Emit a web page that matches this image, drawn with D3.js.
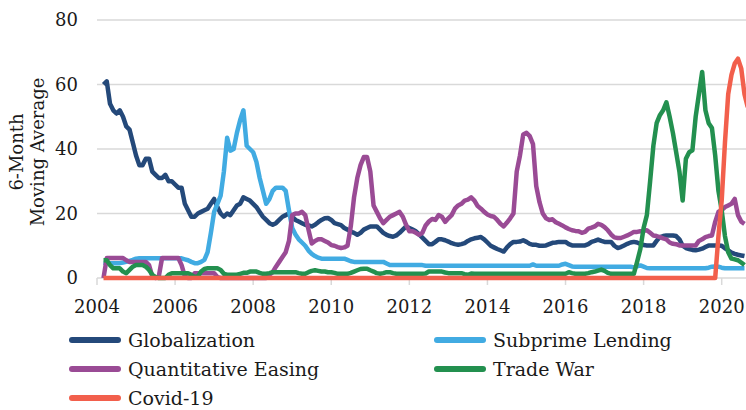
<!DOCTYPE html>
<html>
<head>
<meta charset="utf-8">
<script src="https://cdn.jsdelivr.net/npm/d3@7"></script>
<style>
	body { margin: 0; background: #fff; }
	text { font-family: "DejaVu Serif", serif; fill: #1a1a1a; }
</style>
</head>
<body>
<svg id="chart" width="746" height="410"></svg>
<script>
// monthly series, month 0 = Jan 2004, values start at March 2004
var firstMonth = 2;

var globalization = [
	60, 61, 54, 52, 51, 52, 50, 47, 46, 42,
	38, 35, 35, 37, 37, 33, 32, 31, 31, 32,
	30, 30, 29, 28, 28, 23, 21, 19, 19, 20,
	20.5, 21, 21.5, 23, 24.5, 22, 20, 19, 20, 19.5,
	21, 22.5, 23, 25, 24.5, 24, 23, 22, 20.5, 19,
	18, 17, 16.5, 17, 18, 19, 19.5, 20, 19, 18,
	17.5, 17, 16.5, 16.3, 16, 16.5, 17.3, 18, 18.5, 18.6,
	18, 17, 16.7, 16.4, 15.5, 15, 14.4, 14, 13.4, 14,
	15, 15.5, 16, 16, 16, 15, 14, 13.4, 13, 12.8,
	13.2, 14, 15, 16, 15.5, 15, 14.5, 13.5, 12.5, 11.5,
	10.5, 10.5, 11.2, 12, 12, 11.7, 11.3, 10.8, 10.5, 10.3,
	10.5, 10.8, 11.5, 12, 12.3, 12.5, 12.7, 12, 11, 10,
	9.5, 9, 8.6, 8.2, 9.5, 10.5, 11.2, 11.2, 11.3, 11.7,
	11.2, 10.6, 10.3, 10.3, 10, 10, 10.1, 10.5, 10.9, 11,
	11.2, 11.2, 11.2, 10.5, 10.1, 10.1, 10.1, 10.1, 10.1, 10.5,
	11.2, 11.5, 11.9, 11.5, 11.2, 11.2, 11.2, 10, 9.3, 9.6,
	10.1, 10.6, 11, 11.2, 11, 10.6, 10.2, 10.1, 10.1, 10.1,
	11.5, 12.7, 13, 13.2, 13.2, 13.2, 13, 12, 10, 9.3,
	9, 8.7, 8.6, 8.8, 9.1, 9.6, 10.1, 10.1, 10.1, 10.1,
	10, 9.2, 8.6, 7.9, 7.5, 7.2, 7, 6.8
];

var subprime = [
	4.8, 4.6, 4.6, 4.6, 4.6, 4.6, 4.8, 5, 5.3, 5.6,
	6, 6.1, 6.1, 6.1, 6.1, 6.1, 6.1, 6.1, 6.1, 6.1,
	6.1, 6.1, 6.1, 6.1, 6.1, 5.8, 5.5, 5, 4.6, 4.6,
	5, 5.6, 8, 14, 20.5, 23, 25.5, 33, 43.5, 39.5,
	40, 45, 49, 52, 41, 40, 39, 36, 31, 27,
	23, 24.5, 27, 28, 28, 28, 27, 21, 15.5, 13.5,
	12, 11, 10, 8.5, 7.5, 6.8, 6.3, 6, 6, 6,
	6, 6, 6, 6, 6, 5.6, 5.2, 5, 5, 5,
	5, 5, 5, 5, 5, 5, 5, 4.5, 4, 4,
	4, 4, 4, 4, 4, 4, 4, 4, 4, 3.8,
	3.8, 3.8, 3.8, 3.8, 3.8, 3.8, 3.8, 3.8, 3.8, 3.8,
	3.8, 3.8, 3.8, 3.8, 3.8, 3.8, 3.8, 3.8, 3.8, 3.8,
	3.8, 3.8, 3.8, 3.8, 3.8, 3.8, 3.8, 3.8, 3.8, 3.8,
	3.8, 3.8, 4.2, 3.8, 3.8, 3.8, 3.8, 3.8, 3.8, 3.8,
	3.8, 4.2, 4.4, 4, 3.6, 3.5, 3.5, 3.5, 3.5, 3.5,
	3.5, 3.5, 3.5, 3.5, 3.5, 3.5, 3.5, 3.5, 3.5, 3.5,
	3.5, 3.5, 3.5, 3.3, 3.6, 3.9, 3.5, 3.1, 3, 3,
	3, 3, 3, 3, 3, 3, 3, 3, 3, 3,
	3, 3, 3, 3, 3, 3, 3.2, 3.5, 3.6, 3.5,
	3.2, 3, 3, 3, 3, 3, 3, 3
];

var quantEasing = [
	0, 6.2, 6.2, 6.2, 6.2, 6.2, 6.2, 5.5, 5, 5,
	5, 5, 5, 5, 4, 0.5, 0, 0.5, 6.2, 6.2,
	6.2, 6.2, 6.2, 6.2, 4, 0.5, 0, 0, 1.5, 1.5,
	1.5, 1.5, 1.5, 1.5, 1.5, 0.3, 0, 0, 0, 0,
	0, 0, 0, 0, 0, 0, 0, 0, 0, 0,
	0, 1, 1.8, 3.5, 5, 6.5, 8, 11.5, 19.5, 20,
	20, 20.5, 19.5, 15, 10.7, 11.5, 12, 12, 11.5, 11,
	10.2, 10, 9.6, 9.3, 9.5, 10, 16, 25, 31, 35,
	37.5, 37.5, 33, 22.5, 20.5, 18.5, 17, 18, 19, 19.5,
	20, 20.5, 19, 16.5, 14.5, 14.5, 14, 13.4, 14, 16.3,
	17.5, 18.3, 18, 19.5, 19, 17.4, 18.5, 19.5, 21.5, 22.5,
	23, 24, 24.3, 25, 24, 22.3, 21.5, 20.5, 19.7, 19.2,
	19, 18, 16.8, 16, 17.2, 18.5, 20, 33, 38, 44.5,
	45, 44, 41.5, 28.5, 23.5, 20, 18.5, 18, 18.2, 17.3,
	16.8, 16.3, 15.7, 15.2, 14.8, 14.6, 14.5, 14, 14.3, 15.3,
	15.6, 16, 16.8, 16.5, 15.8, 14.8, 13.5, 12.6, 12.4, 12.4,
	12.8, 13.2, 13.7, 14.3, 14.3, 14.5, 14.6, 14.8, 14, 13.2,
	13, 12.7, 12.3, 12, 11, 10.6, 10.5, 10.1, 10.1, 10.1,
	10.1, 10.1, 10.1, 11.5, 12, 12.7, 13, 13.2, 17.4, 20.5,
	21, 22, 22.5, 23, 24.5, 19.5, 17.5, 16.8
];

var tradeWar = [
	5.5, 5.5, 4, 3, 3, 3, 2, 1.5, 2.5, 3.5,
	4, 4, 4, 3.5, 2.5, 1, 0.3, 0, 0, 0,
	1, 1.5, 1.5, 1.5, 1.5, 1.5, 1.5, 1, 0.3, 0.5,
	2, 2.8, 3, 3, 3, 3, 2.5, 1.3, 1, 1,
	1, 1, 1.3, 1.6, 1.6, 2, 2, 2, 1.6, 1.3,
	1.3, 1.5, 1.8, 1.8, 1.8, 1.8, 1.8, 1.8, 1.8, 1.8,
	1.5, 1.3, 1.3, 1.8, 2.2, 2.4, 2.2, 2, 2, 1.8,
	1.8, 1.6, 1.3, 1.3, 1.3, 1.3, 1.6, 2, 2.4, 2.8,
	2.9, 2.9, 2.4, 2, 1.5, 1.3, 1.5, 1.8, 1.8, 1.5,
	1.3, 1.3, 1.3, 1.3, 1.3, 1.3, 1.3, 1.3, 1.3, 1.4,
	2, 2, 2, 2, 2, 1.7, 1.5, 1.5, 1.5, 1.5,
	1.5, 1.2, 1, 1.4, 1.3, 1.3, 1.3, 1.3, 1.3, 1.3,
	1.3, 1.3, 1.3, 1.3, 1.3, 1.3, 1.3, 1.3, 1.3, 1.3,
	1.3, 1.3, 1.3, 1.3, 1.3, 1.3, 1.3, 1.3, 1.3, 1.3,
	1.3, 1.3, 1.3, 1.8, 1.5, 1.3, 1.3, 1.3, 1.3, 1.5,
	1.8, 2, 2.3, 2.6, 2.2, 1.6, 1.3, 1.3, 1.3, 1.3,
	1.3, 1.3, 1.3, 1.3, 5, 9, 15.5, 19.5, 30, 41,
	48, 50.5, 52, 54.5, 50, 45, 39, 33, 24, 37,
	39, 39.6, 50, 57, 63.9, 52, 48, 46.5, 38, 27,
	21, 13, 8, 6, 5.8, 5.5, 4.8, 4
];

// covid stays at zero until early 2020
var covidMonths = [2, 190, 191, 192, 193, 194, 195, 196, 197, 198, 199, 200];
var covidValues = [0, 0, 13, 24, 42, 57, 63, 66.5, 68, 65, 57, 53];

var seriesNames = ['Globalization', 'Subprime Lending', 'Quantitative Easing', 'Trade War', 'Covid-19'];
var seriesColors = ['#24497a', '#41abe2', '#9a4b95', '#23904f', '#f25f4c'];
var yearLabels = ['2004', '2006', '2008', '2010', '2012', '2014', '2016', '2018', '2020'];
var yTicks = [0, 20, 40, 60, 80];

window.onload = function init() {
	'use strict';

	var svg = d3.select('svg#chart'),
		left = 97,
		right = 746,
		x = d3.scaleLinear().domain([0, 192]).range([left, 721.7]),
		y = d3.scaleLinear().domain([0, 80]).range([278, 20]);

	function monthly(values) {
		return values.map(function(v, i) { return { m: firstMonth + i, v: v }; });
	}

	var series = [
		monthly(globalization),
		monthly(subprime),
		monthly(quantEasing),
		monthly(tradeWar),
		covidMonths.map(function(m, i) { return { m: m, v: covidValues[i] }; })
	];

	// gridlines
	svg.append('g').selectAll('line').data(yTicks).enter().append('line')
		.attr('x1', left).attr('x2', right)
		.attr('y1', function(d) { return y(d); }).attr('y2', function(d) { return y(d); })
		.attr('stroke', '#d9d9d9').attr('stroke-width', 1.5);

	// bottom ticks
	svg.append('g').selectAll('line').data(yearLabels).enter().append('line')
		.attr('x1', function(d) { return x((+d - 2004) * 12); })
		.attr('x2', function(d) { return x((+d - 2004) * 12); })
		.attr('y1', y(0)).attr('y2', y(0) + 7)
		.attr('stroke', '#d9d9d9').attr('stroke-width', 1.5);

	svg.append('g').selectAll('text').data(yearLabels).enter().append('text')
		.attr('x', function(d) { return x((+d - 2004) * 12); })
		.attr('y', 313)
		.attr('text-anchor', 'middle')
		.style('font-size', '18px')
		.text(function(d) { return d; });

	svg.append('g').selectAll('text').data(yTicks).enter().append('text')
		.attr('x', 78)
		.attr('y', function(d) { return y(d); })
		.attr('dy', '0.35em')
		.attr('text-anchor', 'end')
		.style('font-size', '18px')
		.text(function(d) { return d; });

	// axis title, two lines
	svg.append('text')
		.attr('transform', 'translate(23,152) rotate(-90)')
		.attr('text-anchor', 'middle')
		.style('font-size', '18px')
		.text('6-Month');
	svg.append('text')
		.attr('transform', 'translate(44,152) rotate(-90)')
		.attr('text-anchor', 'middle')
		.style('font-size', '18px')
		.text('Moving Average');

	var line = d3.line()
		.x(function(d) { return x(d.m); })
		.y(function(d) { return y(d.v); });

	svg.append('g').selectAll('path').data(series).enter().append('path')
		.attr('d', line)
		.attr('fill', 'none')
		.attr('stroke', function(d, i) { return seriesColors[i]; })
		.attr('stroke-width', 4.5)
		.attr('stroke-linejoin', 'round');

	// legend
	var legend = svg.append('g').selectAll('g').data(seriesNames).enter().append('g')
		.attr('transform', function(d, i) {
			return 'translate(' + [72, 437][i % 2] + ',' + (340 + Math.floor(i / 2) * 29) + ')';
		});
	legend.append('line')
		.attr('x1', 0).attr('x2', 46)
		.attr('stroke', function(d, i) { return seriesColors[i]; })
		.attr('stroke-width', 6)
		.attr('stroke-linecap', 'round');
	legend.append('text')
		.attr('x', 56)
		.attr('dy', '0.35em')
		.style('font-size', '19px')
		.text(function(d) { return d; });
};
</script>
</body>
</html>
